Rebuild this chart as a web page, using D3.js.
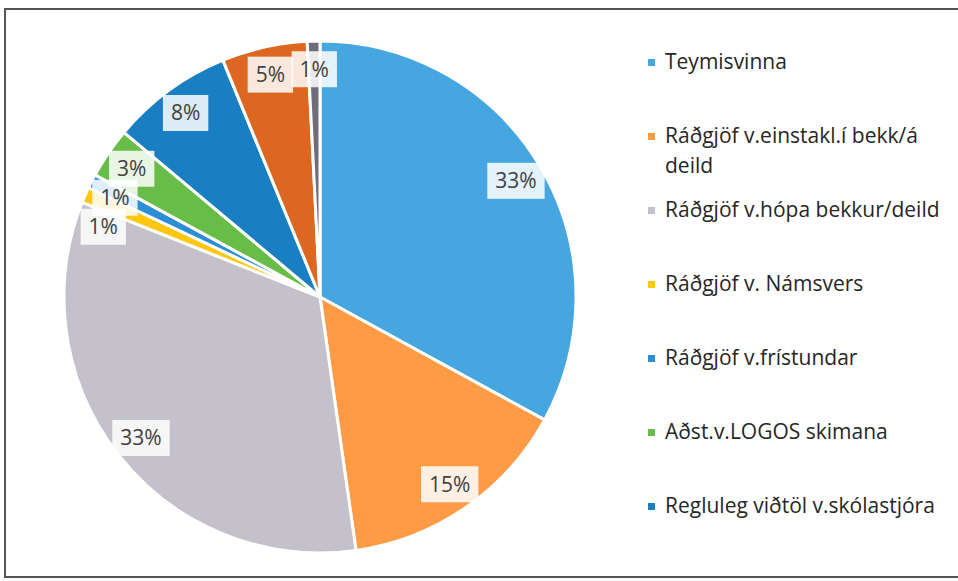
<!DOCTYPE html>
<html>
<head>
<meta charset="utf-8">
<script src="https://cdn.jsdelivr.net/npm/d3@7"></script>
<style>
  body { margin: 0; background: #fff; }
  svg { display: block; font-family: "Open Sans", Lato, sans-serif; }
</style>
</head>
<body>
<div id="chart"></div>
<script>
// slice order is clockwise from 12 o'clock, as in the source chart
const categories = [
  'Teymisvinna',
  'Ráðgjöf v.einstakl.í bekk/á deild',
  'Ráðgjöf v.hópa bekkur/deild',
  'Ráðgjöf v. Námsvers',
  'Ráðgjöf v.frístundar',
  'Aðst.v.LOGOS skimana',
  'Regluleg viðtöl v.skólastjóra',
  'Annað (ekki í skýringu)',
  'Annað 2 (ekki í skýringu)'
];
const values = [33.0, 14.8, 33.3, 1.0, 0.9, 3.2, 7.7, 5.4, 0.8];
const colors = ['#45a6e0', '#ff9a45', '#c4c1cb', '#ffc712', '#2b8ed6', '#68bd48', '#1a7fc2', '#dd6620', '#6e6e7a'];
// legend text as it wraps in the picture, only the first 7 entries fit
const legendLines = [
  ['Teymisvinna'],
  ['Ráðgjöf v.einstakl.í bekk/á', 'deild'],
  ['Ráðgjöf v.hópa bekkur/deild'],
  ['Ráðgjöf v. Námsvers'],
  ['Ráðgjöf v.frístundar'],
  ['Aðst.v.LOGOS skimana'],
  ['Regluleg viðtöl v.skólastjóra']
];

const width = 958;
const height = 581;
const cx = 320;
const cy = 297;
const radius = 256;
const labelRadius = radius * 0.89;
const labelFont = 21;
const legendX = 651;
const legendTop = 62;
const legendStep = 74;
const legendLineGap = 30;

const svg = d3.select('#chart').append('svg')
  .attr('width', width)
  .attr('height', height);

// frame of the scanned chart area
svg.append('path')
  .attr('d', `M${width + 5},9 H5 V577 H${width + 5}`)
  .attr('fill', 'none')
  .attr('stroke', '#555')
  .attr('stroke-width', 2);

const total = d3.sum(values);
const data = categories.map((name, i) => ({ name, value: values[i], color: colors[i] }));

const pie = d3.pie()
  .sort(null)
  .value(d => d.value);

const arc = d3.arc()
  .innerRadius(0)
  .outerRadius(radius);

const arcs = pie(data);

const g = svg.append('g')
  .attr('transform', `translate(${cx},${cy})`);

g.selectAll('path')
  .data(arcs)
  .join('path')
    .attr('d', arc)
    .attr('fill', d => d.data.color)
    .attr('stroke', '#fff')
    .attr('stroke-width', 3)
    .attr('stroke-linejoin', 'round');

// label positions: mid angle on a ring, then push apart the crowded ones
const labels = arcs.map(d => {
  const a = (d.startAngle + d.endAngle) / 2;
  return {
    text: Math.round(d.data.value / total * 100) + '%',
    angle: a,
    x: Math.sin(a) * labelRadius,
    y: -Math.cos(a) * labelRadius
  };
});

const minGap = 29;
const left = labels.filter(l => l.x < 0 && l.angle > Math.PI * 1.5 && l.angle < Math.PI * 1.75)
  .sort((a, b) => a.y - b.y);
for (let i = 1; i < left.length; i++) {
  if (left[i].y - left[i - 1].y < minGap) {
    left[i].y = left[i - 1].y + minGap;
    left[i].x = -Math.sqrt(Math.max(0, labelRadius * labelRadius - left[i].y * left[i].y));
  }
}

const labelG = g.append('g')
  .selectAll('g')
  .data(labels)
  .join('g')
    .attr('transform', d => `translate(${d.x},${d.y})`);

labelG.append('text')
  .attr('text-anchor', 'middle')
  .attr('dy', '0.35em')
  .attr('font-size', labelFont)
  .attr('fill', '#404040')
  .text(d => d.text);

labelG.each(function() {
  const grp = d3.select(this);
  const box = grp.select('text').node().getBBox();
  grp.insert('rect', 'text')
    .attr('x', box.x - 8)
    .attr('y', -18)
    .attr('width', box.width + 16)
    .attr('height', 36)
    .attr('fill', '#fff')
    .attr('fill-opacity', 0.85);
});

// legend
const legend = svg.append('g')
  .selectAll('g')
  .data(legendLines)
  .join('g')
    .attr('transform', (d, i) => `translate(${legendX},${legendTop + i * legendStep})`);

legend.append('rect')
  .attr('x', -3)
  .attr('y', -3)
  .attr('width', 7)
  .attr('height', 7)
  .attr('fill', (d, i) => colors[i]);

legend.append('text')
  .attr('x', 14)
  .attr('font-size', 21)
  .attr('fill', '#262626')
  .selectAll('tspan')
  .data(d => d)
  .join('tspan')
    .attr('x', 14)
    .attr('y', (d, i) => i * legendLineGap)
    .attr('dy', '0.35em')
    .text(d => d);
</script>
</body>
</html>
